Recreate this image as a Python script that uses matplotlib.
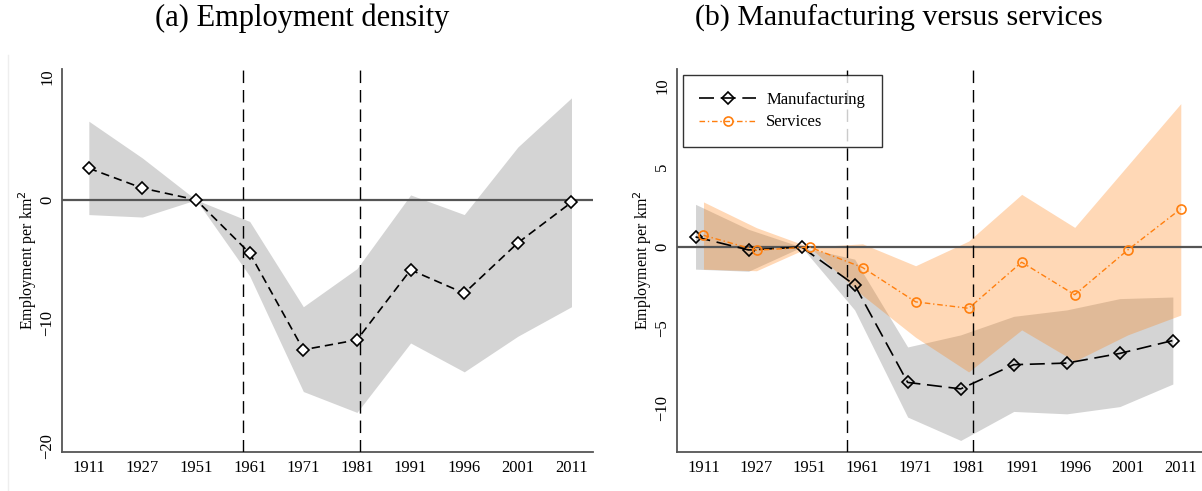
import numpy as np
import matplotlib
matplotlib.use('Agg')
import matplotlib.pyplot as plt
from matplotlib.lines import Line2D

plt.rcParams['font.family'] = ['Liberation Serif', 'DejaVu Serif']

years = ['1911', '1927', '1951', '1961', '1971', '1981', '1991', '1996', '2001', '2011']

# (a) employment density: estimate and confidence band
emp = [2.57, 0.95, 0.0, -4.34, -12.2, -11.4, -5.7, -7.6, -3.5, -0.2]
emp_hi = [6.4, 3.4, 0.0, -1.76, -8.7, -5.6, 0.4, -1.2, 4.3, 8.3]
emp_lo = [-1.2, -1.4, 0.0, -6.2, -15.6, -17.3, -11.65, -14.0, -11.1, -8.7]

# (b) manufacturing versus services
manu = [0.63, -0.18, 0.0, -2.35, -8.4, -8.8, -7.3, -7.2, -6.6, -5.8]
manu_hi = [2.65, 1.1, 0.0, -0.75, -6.2, -5.45, -4.3, -3.9, -3.2, -3.1]
manu_lo = [-1.37, -1.5, 0.0, -3.9, -10.55, -12.0, -10.2, -10.35, -9.9, -8.5]
serv = [0.73, -0.2, 0.0, -1.27, -3.4, -3.8, -0.94, -2.96, -0.18, 2.37]
serv_hi = [2.8, 1.2, 0.0, 0.2, -1.16, 0.37, 3.27, 1.22, 5.06, 8.9]
serv_lo = [-1.37, -1.47, 0.0, -3.0, -5.6, -7.75, -5.14, -7.08, -5.45, -4.22]

x = np.arange(len(years))
x_manu = x - 0.15

band_grey = '#d4d4d4'
orange = '#ff7f0e'
axis_col = '#555555'

fig = plt.figure(figsize=(12.02, 4.91), dpi=100)
ax1 = fig.add_axes([0.0516, 0.080, 0.4417, 0.7795])
ax2 = fig.add_axes([0.5632, 0.080, 0.4368, 0.7795])


def style_axis(ax):
    for s in ['top', 'right']:
        ax.spines[s].set_visible(False)
    for s in ['left', 'bottom']:
        ax.spines[s].set_color(axis_col)
        ax.spines[s].set_linewidth(1.3)
    ax.tick_params(length=0, labelsize=12, pad=6)
    ax.tick_params(axis='y', pad=5)
    ax.set_xticks(x)
    ax.set_xticklabels(years)
    for lab in ax.get_yticklabels():
        lab.set_rotation(90)
        lab.set_va('center')
    ax.set_ylabel('Employment per km$^{2}$', fontsize=11.5, labelpad=0)
    ax.set_xlim(-0.5, 9.4)


# ---- panel (a)
ax1.fill_between(x, emp_lo, emp_hi, color=band_grey, lw=0, zorder=1)
ax1.axhline(0, color=axis_col, lw=1.6, zorder=2)
ax1.axvline(2.87, color='black', lw=1, dashes=(9, 5), zorder=3)
ax1.axvline(5.05, color='black', lw=1, dashes=(9, 5), zorder=3)
ax1.plot(x, emp, color='black', lw=1.2, dashes=(5, 3), marker='D',
         markersize=6, markerfacecolor='white', markeredgecolor='black',
         markeredgewidth=1.2, zorder=4)
ax1.set_ylim(-20.5, 10.65)
ax1.set_yticks([-20, -10, 0, 10])
style_axis(ax1)

# ---- panel (b)
ax2.fill_between(x_manu, manu_lo, manu_hi, color=band_grey, lw=0, zorder=1)
ax2.fill_between(x, serv_lo, serv_hi, color=orange, alpha=0.3, lw=0, zorder=2)
ax2.axhline(0, color=axis_col, lw=1.6, zorder=3)
ax2.axvline(2.70, color='black', lw=1, dashes=(9, 5), zorder=3)
ax2.axvline(5.09, color='black', lw=1, dashes=(9, 5), zorder=3)
ax2.plot(x_manu, manu, color='black', lw=1.2, dashes=(9, 4), marker='D',
         markersize=6, markerfacecolor='none', markeredgecolor='black',
         markeredgewidth=1.2, zorder=4, label='Manufacturing')
ax2.plot(x, serv, color=orange, lw=1, dashes=(4, 2, 1, 2), marker='o',
         markersize=6.5, markerfacecolor='none', markeredgecolor=orange,
         markeredgewidth=1.2, zorder=4, label='Services')
ax2.set_ylim(-12.7, 11.05)
ax2.set_yticks([-10, -5, 0, 5, 10])
style_axis(ax2)

leg = ax2.legend(loc='upper left', bbox_to_anchor=(0.011, 0.984), borderaxespad=0,
                 fontsize=12, handlelength=3.4, frameon=True, fancybox=False,
                 borderpad=1.0, labelspacing=0.4, handletextpad=0.6)
leg.get_frame().set_edgecolor('black')
leg.get_frame().set_linewidth(1.0)

# subfigure captions
fig.text(302 / 1202, 1 - 18 / 491, '(a) Employment density', ha='center', va='center', fontsize=22)
fig.text(899 / 1202, 1 - 18 / 491, '(b) Manufacturing versus services', ha='center', va='center', fontsize=21.5)

# faint frame edge on the left
fig.add_artist(Line2D([8 / 1202, 8 / 1202], [0.0, 1 - 55 / 491], color='#eeeeee', lw=1))

fig.savefig('out.png', dpi=100)
